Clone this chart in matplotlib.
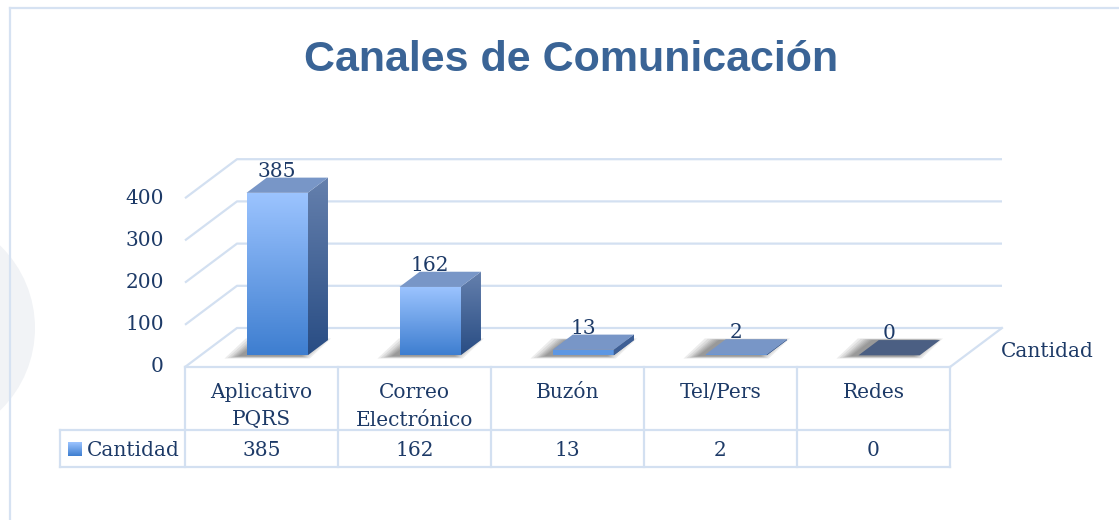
import numpy as np
import matplotlib
matplotlib.use("Agg")
import matplotlib.pyplot as plt
from matplotlib.patches import Polygon, Ellipse
from matplotlib.lines import Line2D
from matplotlib.colors import to_rgb

# ---------------- data ----------------
categories = ["Aplicativo\nPQRS", "Correo\nElectrónico", "Buzón", "Tel/Pers", "Redes"]
values = [385, 162, 13, 2, 0]
series_name = "Cantidad"
title = "Canales de Comunicación"
yticks = [0, 100, 200, 300, 400]

# ---------------- layout (pixels) ----------------
W, H = 1119, 520
X0_PX, X1_PX = 185, 950          # front floor edge (category -0.5 .. n-0.5)
Y0_PX = 367                      # value 0 on front plane
PX_PER_UNIT = 0.422              # vertical pixels per value unit
n = len(categories)
CAT_PX = (X1_PX - X0_PX) / n

def dxp(px):
    return px / CAT_PX

def dyp(px):
    return px / PX_PER_UNIT

DEPTH_X = dxp(52)
DEPTH_Y = dyp(39)

def proj(x, v, d):
    return (x + d * DEPTH_X, v + d * DEPTH_Y)

TXT = "#1d3a67"
GRID = "#d3e0f1"
FONT = "DejaVu Serif"
FS = 14.5

fig = plt.figure(figsize=(W / 100, H / 100), dpi=100)
fig.patch.set_facecolor("white")

# faint watermark circle at the left edge
fig.add_artist(Ellipse((-0.8, (H - 328) / 100), 2.3, 2.3, transform=fig.dpi_scale_trans,
                       facecolor="#f1f3f6", edgecolor="none", zorder=0))
# frame lines
fig.add_artist(Line2D([10 / W, 10 / W], [0, 1 - 8 / H], transform=fig.transFigure,
                      color="#d6e2f2", lw=1.6, zorder=1))
fig.add_artist(Line2D([10 / W, 1], [1 - 8 / H, 1 - 8 / H], transform=fig.transFigure,
                      color="#d6e2f2", lw=1.6, zorder=1))

ax = fig.add_axes([0, 0, 1, 1])
ax.set_axis_off()
ax.patch.set_alpha(0)
xmin = -0.5 - dxp(X0_PX)
xmax = -0.5 + dxp(W - X0_PX)
ymin = -dyp(H - Y0_PX)
ymax = dyp(Y0_PX)

left, right = -0.5, n - 0.5

# ---------------- walls / gridlines ----------------
for v in yticks:
    a = proj(left, v, 0); b = proj(left, v, 1); c = proj(right, v, 1)
    ax.plot([a[0], b[0], c[0]], [a[1], b[1], c[1]], color=GRID, lw=1.6, zorder=1,
            solid_capstyle="butt")
a = proj(right, 0, 0); b = proj(right, 0, 1)
ax.plot([a[0], b[0]], [a[1], b[1]], color=GRID, lw=1.6, zorder=1)
ax.plot([left, right], [0, 0], color=GRID, lw=1.6, zorder=1)

# y tick labels
for v in yticks:
    ax.text(left - dxp(21), v, str(v), ha="right", va="center", fontsize=FS,
            family=FONT, color=TXT)

# ---------------- bars ----------------
D0, D1 = 0.30, 0.69
HW = 0.2

def grad_face(verts, ctop, cbot, z):
    verts = np.asarray(verts)
    poly = Polygon(verts, closed=True, facecolor="none", edgecolor="none", zorder=z)
    ax.add_patch(poly)
    t = np.linspace(0, 1, 128)[:, None]
    ct, cb = np.array(to_rgb(ctop)), np.array(to_rgb(cbot))
    img = (cb[None, :] * (1 - t) + ct[None, :] * t)[:, None, :]
    x0, x1 = verts[:, 0].min(), verts[:, 0].max()
    y0, y1 = verts[:, 1].min(), verts[:, 1].max()
    if y1 - y0 < 1e-6:
        y1 = y0 + 1e-6
    im = ax.imshow(img, extent=(x0, x1, y0, y1), origin="lower", aspect="auto",
                   interpolation="bilinear", zorder=z)
    im.set_clip_path(poly)

for i, val in enumerate(values):
    # soft shadow on the floor
    for k, m in enumerate([15, 12, 9, 7, 5, 3, 1]):
        mx, my = dxp(m), dyp(m * 0.55)
        off = dxp(-6)
        fp = [proj(i - HW - mx + off, 0 - my * 0.3, D0 - 0.02),
              proj(i + HW + mx * 0.6 + off, 0 - my * 0.3, D0 - 0.02),
              proj(i + HW + mx * 0.6 + off, 0 + my * 0.2, D1),
              proj(i - HW - mx + off, 0 + my * 0.2, D1)]
        ax.add_patch(Polygon(fp, closed=True, facecolor="#333333", edgecolor="none",
                             alpha=0.09, zorder=2))
    front = [proj(i - HW, 0, D0), proj(i + HW, 0, D0), proj(i + HW, val, D0), proj(i - HW, val, D0)]
    side = [proj(i + HW, 0, D0), proj(i + HW, 0, D1), proj(i + HW, val, D1), proj(i + HW, val, D0)]
    if val > 0:
        grad_face(front, "#9cc4ff", "#3e7ed0", 3)
        grad_face(side, "#6580ad", "#294d84", 3)
        if val < 30:
            ax.add_patch(Polygon(front, closed=True, facecolor="#5d97e3", edgecolor="none", zorder=3.1))
            ax.add_patch(Polygon(side, closed=True, facecolor="#3e5f95", edgecolor="none", zorder=3.1))
    top = [proj(i - HW, val, D0), proj(i + HW, val, D0), proj(i + HW, val, D1), proj(i - HW, val, D1)]
    tc = "#4b5f83" if val == 0 else "#7896c7"
    ax.add_patch(Polygon(top, closed=True, facecolor=tc, edgecolor="none", zorder=3.2))
    lx, _ = proj(i, val, D0)
    _, ly = proj(i, val, D1)
    ax.text(lx, ly + dyp(1), str(val), ha="center", va="baseline", fontsize=FS,
            family=FONT, color=TXT, zorder=5)

# series name at right side of floor
ax.text(right + DEPTH_X + dxp(-1), -dyp(357 - Y0_PX), series_name, ha="left", va="baseline",
        fontsize=FS, family=FONT, color=TXT)

# ---------------- data table ----------------
r1 = -dyp(63)
r2 = -dyp(99.5)
rl = left - dxp(125)
ax.plot([rl, right], [r1, r1], color=GRID, lw=1.6, zorder=1)
ax.plot([rl, right], [r2, r2], color=GRID, lw=1.6, zorder=1)
for k in range(n + 1):
    ax.plot([left + k, left + k], [0, r2], color=GRID, lw=1.6, zorder=1)
ax.plot([rl, rl], [r1, r2], color=GRID, lw=1.6, zorder=1)

for i, cat in enumerate(categories):
    for j, line in enumerate(cat.split("\n")):
        ax.text(i, -dyp(398 - Y0_PX + 27.5 * j), line, ha="center", va="baseline",
                fontsize=FS, family=FONT, color=TXT)
    ax.text(i, -dyp(456 - Y0_PX), str(values[i]), ha="center", va="baseline",
            fontsize=FS, family=FONT, color=TXT)

# legend key in row-label cell
kx0 = rl + dxp(8)
grad_face([(kx0, -dyp(456 - Y0_PX)), (kx0 + dxp(14), -dyp(456 - Y0_PX)),
           (kx0 + dxp(14), -dyp(442 - Y0_PX)), (kx0, -dyp(442 - Y0_PX))],
          "#9cc4ff", "#3e7ed0", 3)
ax.text(kx0 + dxp(19), -dyp(456 - Y0_PX), series_name, ha="left", va="baseline",
        fontsize=FS, family=FONT, color=TXT)

ax.set_xlim(xmin, xmax)
ax.set_ylim(ymin, ymax)

# title
fig.text(571 / W, 1 - 71 / H, title, ha="center", va="baseline", fontsize=31,
         fontweight="bold", family="Liberation Sans", color="#3a6496")

fig.savefig("out.png", dpi=100, facecolor="white")
